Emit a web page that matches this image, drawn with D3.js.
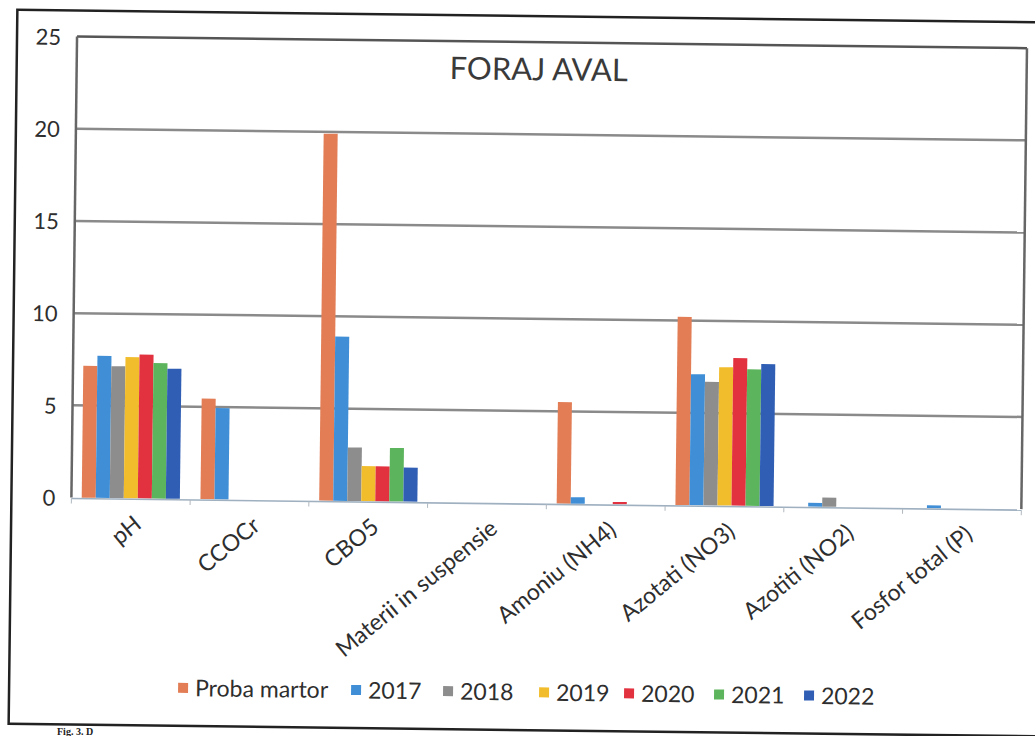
<!DOCTYPE html>
<html>
<head>
<meta charset="utf-8">
<script src="https://cdn.jsdelivr.net/npm/d3@7"></script>
<style>
    body { margin: 0; background: #fff; }
    svg { display: block; }
    text { font-family: Lato, "Open Sans", sans-serif; fill: #333; }
</style>
</head>
<body>
<div id="chart"></div>
<script>

// categories on the x axis
var categories = ["pH", "CCOCr", "CBO5", "Materii in suspensie", "Amoniu (NH4)",
    "Azotati (NO3)", "Azotiti (NO2)", "Fosfor total (P)"];

var seriesNames = ["Proba martor", "2017", "2018", "2019", "2020", "2021", "2022"];
var seriesColors = ["#e27d55", "#3f8ed6", "#8d8d8d", "#f2bd2d", "#e2313f", "#5cb45c", "#2f5eb4"];

// values, one array per series (same order as categories)
var probaMartor = [7.15, 5.45, 19.9, 0, 5.5, 10.2, 0, 0];
var y2017 = [7.7, 4.95, 8.9, 0, 0.35, 7.1, 0.2, 0.15];
var y2018 = [7.15, 0, 2.9, 0, 0, 6.7, 0.5, 0];
var y2019 = [7.65, 0, 1.9, 0, 0, 7.5, 0, 0];
var y2020 = [7.8, 0, 1.9, 0, 0.12, 8.0, 0, 0];
var y2021 = [7.35, 0, 2.9, 0, 0, 7.4, 0, 0];
var y2022 = [7.05, 0, 1.85, 0, 0, 7.7, 0, 0];

var yTicks = [0, 5, 10, 15, 20, 25];
var title = "FORAJ AVAL";

var allSeries = [probaMartor, y2017, y2018, y2019, y2020, y2021, y2022];

var W = 1035, H = 736;
var plot = {left: 73, right: 1023, top: 42, bottom: 503};

var svg = d3.select("#chart").append("svg")
    .attr("width", W)
    .attr("height", H);

svg.append("rect").attr("width", W).attr("height", H).attr("fill", "#fff");

// the scanned page is slightly turned
var g = svg.append("g")
    .attr("transform", "rotate(0.7,520,370)");

// outer frame of the figure
g.append("rect")
    .attr("x", 13).attr("y", 16)
    .attr("width", 1100).attr("height", 714)
    .attr("fill", "none")
    .attr("stroke", "#222")
    .attr("stroke-width", 2.5);

var x0 = d3.scaleBand()
    .domain(categories)
    .range([plot.left, plot.right])
    .paddingInner(0)
    .paddingOuter(0);

var x1 = d3.scaleBand()
    .domain(seriesNames)
    .range([10.3, x0.bandwidth() - 10.3]);

var y = d3.scaleLinear()
    .domain([0, 25])
    .range([plot.bottom, plot.top]);

// gridlines
g.append("g")
    .attr("class", "grid")
    .selectAll("line")
    .data(yTicks.filter(function (d) { return d > 0; }))
    .enter().append("line")
    .attr("x1", plot.left).attr("x2", plot.right)
    .attr("y1", function (d) { return y(d); })
    .attr("y2", function (d) { return y(d); })
    .attr("stroke", function (d) { return d == 25 ? "#555" : "#8a8a8a"; })
    .attr("stroke-width", 2.5);

// left and right sides of the plot frame
g.append("line")
    .attr("x1", plot.left).attr("x2", plot.left)
    .attr("y1", plot.top).attr("y2", plot.bottom)
    .attr("stroke", "#666").attr("stroke-width", 2.5);
g.append("line")
    .attr("x1", plot.right).attr("x2", plot.right)
    .attr("y1", plot.top).attr("y2", plot.bottom)
    .attr("stroke", "#666").attr("stroke-width", 2.5);

// y axis labels
var yAxis = g.append("g")
    .attr("transform", "translate(" + (plot.left - 16) + ",0)")
    .call(d3.axisLeft(y).tickValues(yTicks).tickSize(0).tickPadding(0));
yAxis.select(".domain").remove();
yAxis.selectAll("text")
    .attr("dy", "0.36em")
    .style("font-family", "Lato, sans-serif")
    .style("font-size", "22px")
    .style("fill", "#2e2e2e");

// bars
var groups = g.append("g")
    .selectAll("g")
    .data(categories)
    .enter().append("g")
    .attr("transform", function (d) { return "translate(" + x0(d) + ",0)"; });

groups.selectAll("rect")
    .data(function (c, ci) {
        return allSeries.map(function (s, si) {
            return {name: seriesNames[si], value: s[ci], color: seriesColors[si]};
        });
    })
    .enter().append("rect")
    .filter(function (d) { return d.value > 0; })
    .attr("x", function (d) { return x1(d.name); })
    .attr("width", x1.bandwidth())
    .attr("y", function (d) { return y(d.value); })
    .attr("height", function (d) { return y(0) - y(d.value); })
    .attr("fill", function (d) { return d.color; });

// x axis line and small ticks at category borders
g.append("line")
    .attr("x1", plot.left).attr("x2", plot.right)
    .attr("y1", plot.bottom + 1).attr("y2", plot.bottom + 1)
    .attr("stroke", "#9fb0c0").attr("stroke-width", 1.6);

var borders = categories.map(function (c) { return x0(c); }).concat([plot.right]);
g.append("g").selectAll("line")
    .data(borders)
    .enter().append("line")
    .attr("x1", function (d) { return d; }).attr("x2", function (d) { return d; })
    .attr("y1", plot.bottom + 1).attr("y2", plot.bottom + 6)
    .attr("stroke", "#b0b8c0").attr("stroke-width", 1);

// category labels, turned
g.append("g").selectAll("text")
    .data(categories)
    .enter().append("text")
    .attr("transform", function (d) {
        return "translate(" + (x0(d) + x0.bandwidth() / 2 + 2) + "," + (plot.bottom + 16) + ") rotate(-40)";
    })
    .attr("text-anchor", "end")
    .attr("dy", "0.7em")
    .style("font-size", "23px")
    .style("fill", "#2e2e2e")
    .text(function (d) { return d; });

// title
g.append("text")
    .attr("x", 535)
    .attr("y", 80)
    .attr("text-anchor", "middle")
    .style("font-size", "31px")
    .style("fill", "#3a3a3a")
    .text(title);

// legend
var legendX = [182, 355, 447, 543, 628, 718, 808];
var legend = g.append("g").selectAll("g")
    .data(seriesNames)
    .enter().append("g")
    .attr("transform", function (d, i) { return "translate(" + legendX[i] + ",692)"; });

legend.append("rect")
    .attr("x", 0).attr("y", -5)
    .attr("width", 10).attr("height", 10)
    .attr("fill", function (d, i) { return seriesColors[i]; });

legend.append("text")
    .attr("x", 17)
    .attr("dy", "0.36em")
    .style("font-size", "23px")
    .style("fill", "#2e2e2e")
    .text(function (d) { return d; });

// caption fragment below the frame
svg.append("text")
    .attr("x", 57)
    .attr("y", 735)
    .style("font-family", "'Liberation Serif', serif")
    .style("font-weight", "bold")
    .style("font-size", "10px")
    .style("fill", "#222")
    .text("Fig. 3. D");

</script>
</body>
</html>
